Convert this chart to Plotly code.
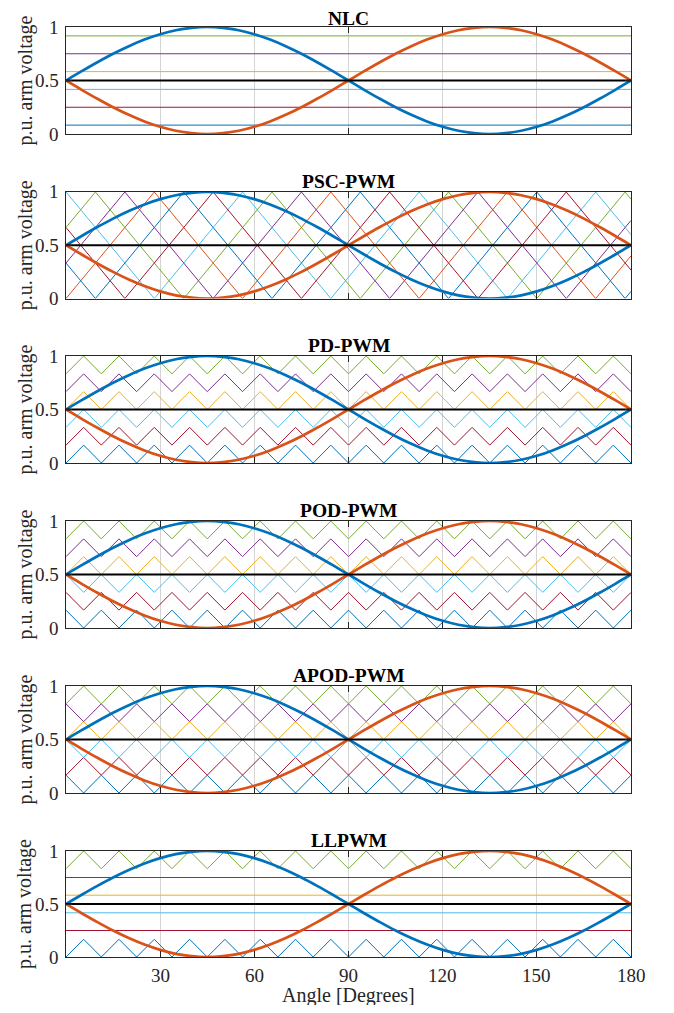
import plotly.graph_objects as go

# ---------------- data ----------------
TITLES = ["NLC", "PSC-PWM", "PD-PWM", "POD-PWM", "APOD-PWM", "LLPWM"]
X_TICKS = [30, 60, 90, 120, 150, 180]
X_TICK_LABELS = ["30", "60", "90", "120", "150", "180"]
Y_TICKS = [0, 0.5, 1]
Y_TICK_LABELS = ["0", "0.5", "1"]

# reference (modulating) signals sampled every 5 degrees
ANGLE = [0, 5, 10, 15, 20, 25, 30, 35, 40, 45, 50, 55, 60, 65, 70, 75, 80, 85, 90,
         95, 100, 105, 110, 115, 120, 125, 130, 135, 140, 145, 150, 155, 160, 165, 170, 175, 180]
UPPER_ARM = [0.5, 0.587, 0.671, 0.75, 0.821, 0.883, 0.933, 0.970, 0.992, 1.0, 0.992, 0.970,
             0.933, 0.883, 0.821, 0.75, 0.671, 0.587, 0.5, 0.413, 0.329, 0.25, 0.179, 0.117,
             0.067, 0.030, 0.008, 0.0, 0.008, 0.030, 0.067, 0.117, 0.179, 0.25, 0.329, 0.413, 0.5]
LOWER_ARM = [0.5, 0.413, 0.329, 0.25, 0.179, 0.117, 0.067, 0.030, 0.008, 0.0, 0.008, 0.030,
             0.067, 0.117, 0.179, 0.25, 0.329, 0.413, 0.5, 0.587, 0.671, 0.75, 0.821, 0.883,
             0.933, 0.970, 0.992, 1.0, 0.992, 0.970, 0.933, 0.883, 0.821, 0.75, 0.671, 0.587, 0.5]
MID_LEVEL = 0.5

# NLC voltage levels (bottom to top)
NLC_LEVELS = [0.083, 0.25, 0.417, 0.583, 0.75, 0.917]

# PSC-PWM carriers: vertices every 9.375 degrees
PSC_X = [0, 9.375, 18.75, 28.125, 37.5, 46.875, 56.25, 65.625, 75, 84.375, 93.75,
         103.125, 112.5, 121.875, 131.25, 140.625, 150, 159.375, 168.75, 178.125, 180]
PSC_BLUE = [0.333, 0, 0.333, 0.667, 1, 0.667, 0.333, 0, 0.333, 0.667, 1, 0.667, 0.333, 0,
            0.333, 0.667, 1, 0.667, 0.333, 0, 0.067]
PSC_RED = [0.667, 0.333, 0, 0.333, 0.667, 1, 0.667, 0.333, 0, 0.333, 0.667, 1, 0.667, 0.333,
           0, 0.333, 0.667, 1, 0.667, 0.333, 0.267]
PSC_CYAN = [1, 0.667, 0.333, 0, 0.333, 0.667, 1, 0.667, 0.333, 0, 0.333, 0.667, 1, 0.667,
            0.333, 0, 0.333, 0.667, 1, 0.667, 0.6]
PSC_ORANGE = [0, 0.333, 0.667, 1, 0.667, 0.333, 0, 0.333, 0.667, 1, 0.667, 0.333, 0, 0.333,
              0.667, 1, 0.667, 0.333, 0, 0.333, 0.4]
PSC_PURPLE = [0.333, 0.667, 1, 0.667, 0.333, 0, 0.333, 0.667, 1, 0.667, 0.333, 0, 0.333,
              0.667, 1, 0.667, 0.333, 0, 0.333, 0.667, 0.733]
PSC_GREEN = [0.667, 1, 0.667, 0.333, 0, 0.333, 0.667, 1, 0.667, 0.333, 0, 0.333, 0.667, 1,
             0.667, 0.333, 0, 0.333, 0.667, 1, 0.933]

# level-shifted carriers: vertices every 5.625 degrees (16 cycles)
LS_X = [0, 5.625, 11.25, 16.875, 22.5, 28.125, 33.75, 39.375, 45, 50.625, 56.25, 61.875,
        67.5, 73.125, 78.75, 84.375, 90, 95.625, 101.25, 106.875, 112.5, 118.125, 123.75,
        129.375, 135, 140.625, 146.25, 151.875, 157.5, 163.125, 168.75, 174.375, 180]
BAND_LOW = [0, 0.167, 0.333, 0.5, 0.667, 0.833]     # bottom to top
BAND_HIGH = [0.167, 0.333, 0.5, 0.667, 0.833, 1.0]
# phase at 0 deg for each band (bottom to top): "T" = starts at trough, "P" = starts at peak
PD_PHASE = ["T", "T", "T", "T", "T", "T"]
POD_PHASE = ["P", "P", "P", "T", "T", "T"]
APOD_PHASE = ["P", "T", "P", "T", "P", "T"]
# LLPWM: only the outer bands are triangular, inner ones are fixed levels
LL_TRIANGULAR = [True, False, False, False, False, True]

# ---------------- styles ----------------
CARRIER_COLORS = ["#0072BD", "#A2142F", "#4DBEEE", "#EDB120", "#7E2F8E", "#77AC30"]
PSC_SET = [(PSC_CYAN, "#4DBEEE"), (PSC_GREEN, "#77AC30"), (PSC_PURPLE, "#7E2F8E"),
           (PSC_ORANGE, "#D95319"), (PSC_BLUE, "#0072BD"), (PSC_RED, "#A2142F")]
BLUE = "#0072BD"
ORANGE = "#D95319"
FONT = "Liberation Serif"
TXT = "#262626"
PAGE_PAD = 8                      # browser body margin
W, H = 674 - 2 * PAGE_PAD, 1013 - 2 * PAGE_PAD
X_LEFT, X_RIGHT = 66 - PAGE_PAD, 631 - PAGE_PAD
TOPS = [t - PAGE_PAD for t in [27, 192, 356, 521, 686, 851]]
BOTTOMS = [b - PAGE_PAD for b in [134, 298.5, 463, 628, 793, 957]]
TITLE_SHIFT = [-3, -1, -1, -1, -1, -1]

fig = go.Figure()


def add(i, x, y, color, width, shape="linear"):
    fig.add_trace(go.Scatter(
        x=x, y=y, mode="lines", line=dict(color=color, width=width, shape=shape),
        xaxis="x" if i == 0 else f"x{i + 1}", yaxis="y" if i == 0 else f"y{i + 1}",
        showlegend=False, hoverinfo="skip"))


def tri(lo, hi, phase):
    n = len(LS_X)
    if phase == "T":
        return [lo if k % 2 == 0 else hi for k in range(n)]
    return [hi if k % 2 == 0 else lo for k in range(n)]


for i, title in enumerate(TITLES):
    if title == "NLC":
        for lvl, c in zip(NLC_LEVELS, CARRIER_COLORS):
            add(i, [0, 180], [lvl, lvl], c, 1)
    elif title == "PSC-PWM":
        for ys, c in PSC_SET:
            add(i, PSC_X, ys, c, 1)
    elif title in ("PD-PWM", "POD-PWM", "APOD-PWM"):
        ph = {"PD-PWM": PD_PHASE, "POD-PWM": POD_PHASE, "APOD-PWM": APOD_PHASE}[title]
        for b in range(6):
            add(i, LS_X, tri(BAND_LOW[b], BAND_HIGH[b], ph[b]), CARRIER_COLORS[b], 1)
    else:  # LLPWM
        for b in range(6):
            if LL_TRIANGULAR[b]:
                add(i, LS_X, tri(BAND_LOW[b], BAND_HIGH[b], "T"), CARRIER_COLORS[b], 1)
            else:
                add(i, [0, 180], [NLC_LEVELS[b], NLC_LEVELS[b]], CARRIER_COLORS[b], 1)
    add(i, ANGLE, UPPER_ARM, BLUE, 2.7, "spline")
    add(i, ANGLE, LOWER_ARM, ORANGE, 2.7, "spline")
    add(i, [0, 180], [MID_LEVEL, MID_LEVEL], "black", 2.2)

layout = dict(
    template="none",
    width=W, height=H, margin=dict(l=0, r=0, t=0, b=0, pad=0), autosize=False,
    paper_bgcolor="white", plot_bgcolor="white",
    font=dict(family=FONT, size=19, color=TXT),
    showlegend=False,
)
annotations = []
for i, title in enumerate(TITLES):
    sx = "" if i == 0 else str(i + 1)
    y0 = 1 - BOTTOMS[i] / H
    y1 = 1 - TOPS[i] / H
    layout["xaxis" + sx] = dict(
        domain=[X_LEFT / W, X_RIGHT / W], range=[0, 180], anchor="y" + sx, automargin=False,
        showline=True, linecolor=TXT, linewidth=1, mirror="ticks",
        ticks="inside", ticklen=6, tickcolor=TXT, tickwidth=1,
        tickvals=X_TICKS, showticklabels=False,
        showgrid=True, gridcolor="#d4d4d4", gridwidth=1, zeroline=False, fixedrange=True)
    layout["yaxis" + sx] = dict(
        domain=[y0, y1], range=[0, 1], anchor="x" + sx, automargin=False,
        showline=True, linecolor=TXT, linewidth=1, mirror="ticks",
        ticks="inside", ticklen=6, tickcolor=TXT, tickwidth=1,
        tickvals=Y_TICKS, showticklabels=False,
        showgrid=False, zeroline=False, fixedrange=True)
    # y tick labels
    for v, t in zip(Y_TICKS, Y_TICK_LABELS):
        annotations.append(dict(
            text=t, xref="paper", yref="y" + sx, x=(61 - PAGE_PAD) / W, y=v,
            xanchor="right", yanchor="middle", showarrow=False,
            font=dict(family=FONT, size=19, color=TXT)))
    annotations.append(dict(
        text="<b>" + title + "</b>", xref="paper", yref="paper",
        x=(X_LEFT + X_RIGHT) / 2 / W, y=y1, yshift=TITLE_SHIFT[i], xanchor="center",
        yanchor="bottom", borderpad=0, showarrow=False,
        font=dict(family=FONT, size=19.5, color="black")))
    annotations.append(dict(
        text="p.u. arm voltage", xref="paper", yref="paper",
        x=(25 - PAGE_PAD) / W, y=(y0 + y1) / 2, xanchor="center", yanchor="middle",
        textangle=-90, showarrow=False, font=dict(family=FONT, size=20, color=TXT)))

# x tick labels on the bottom panel
last = str(len(TITLES))
for v, t in zip(X_TICKS, X_TICK_LABELS):
    annotations.append(dict(
        text=t, xref="x" + last, yref="paper", x=v, y=1 - (975 - PAGE_PAD) / H,
        xanchor="center", yanchor="middle", showarrow=False,
        font=dict(family=FONT, size=19, color=TXT)))
annotations.append(dict(
    text="Angle [Degrees]", xref="paper", yref="paper",
    x=(X_LEFT + X_RIGHT) / 2 / W, y=1 - (995 - PAGE_PAD) / H, xanchor="center",
    yanchor="middle", showarrow=False, font=dict(family=FONT, size=20, color=TXT)))
layout["annotations"] = annotations
fig.update_layout(**layout)
fig.write_html("out.html")
